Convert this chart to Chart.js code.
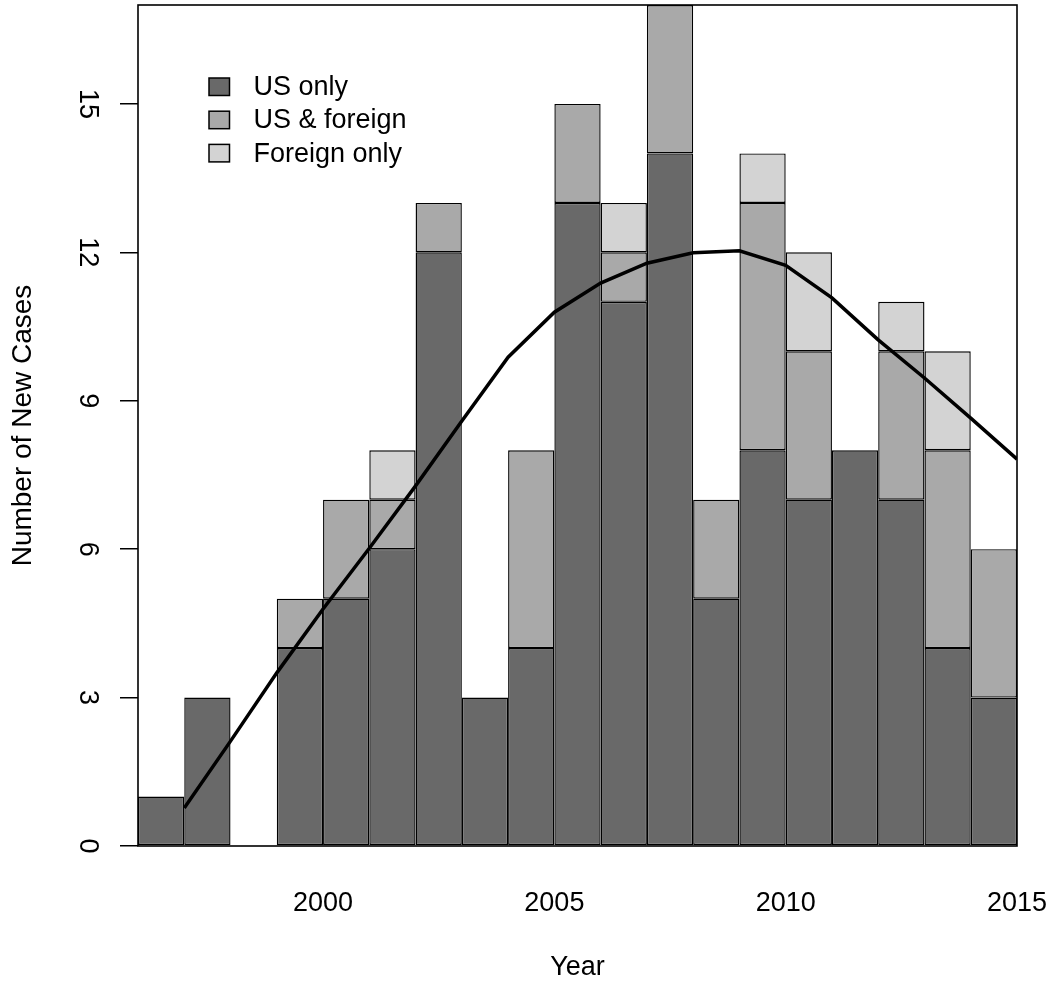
<!DOCTYPE html>
<html>
<head>
<meta charset="utf-8">
<script src="https://cdn.jsdelivr.net/npm/chart.js@4.4.1/dist/chart.umd.min.js"></script>
<style>
  html, body { margin: 0; padding: 0; background: #ffffff; }
  #wrap { width: 1052px; height: 988px; }
</style>
</head>
<body>
<div id="wrap"><canvas id="cases" width="1052" height="988"></canvas></div>
<script>
// Yearly counts of new cases, split by where they occurred
const YEARS        = [1996, 1997, 1998, 1999, 2000, 2001, 2002, 2003, 2004, 2005,
                      2006, 2007, 2008, 2009, 2010, 2011, 2012, 2013, 2014];
const US_ONLY      = [1, 3, 0, 4, 5, 6, 12, 3, 4, 13, 11, 14, 5, 8, 7, 8, 7, 4, 3];
const US_FOREIGN   = [0, 0, 0, 1, 2, 1, 1, 0, 4, 2, 1, 3, 2, 5, 3, 0, 3, 4, 3];
const FOREIGN_ONLY = [0, 0, 0, 0, 0, 1, 0, 0, 0, 0, 1, 0, 0, 1, 2, 0, 1, 2, 0];
// Smoothed trend, evaluated at the end of each year
const TREND        = [0.77, 2.12, 3.50, 4.79, 6.02, 7.28, 8.59, 9.88, 10.79, 11.38,
                      11.78, 11.99, 12.03, 11.74, 11.08, 10.23, 9.46, 8.65, 7.82];
const SERIES_NAMES = ['US only', 'US & foreign', 'Foreign only'];
const X_TICKS = [2000, 2005, 2010, 2015];
const Y_TICKS = [0, 3, 6, 9, 12, 15];
const Y_MAX = 17;

const FONT = 'Liberation Sans, Arial, Helvetica, sans-serif';
const COLORS = ['#696969', '#a9a9a9', '#d3d3d3'];

// each yearly bin spans [year, year + 1]
const toBars = (vals) => vals.map((v, i) => ({ x: YEARS[i] + 0.5, y: v }));
const toTrend = TREND.map((v, i) => ({ x: YEARS[i] + 1, y: v }));

const barStyle = (color) => ({
  type: 'bar',
  backgroundColor: color,
  borderColor: '#000000',
  borderWidth: 1.4,
  borderSkipped: false,
  inflateAmount: 0,
  barPercentage: 1,
  categoryPercentage: 1,
  stack: 'cases',
  order: 1
});

// frame around the plotting region
const frame = {
  id: 'frame',
  afterDatasetsDraw(chart) {
    const a = chart.chartArea, ctx = chart.ctx;
    ctx.save();
    ctx.strokeStyle = '#000000';
    ctx.lineWidth = 1.6;
    ctx.strokeRect(a.left, a.top, a.right - a.left, a.bottom - a.top);
    ctx.restore();
  }
};

// key in the upper-left corner of the plot
const key = {
  id: 'key',
  afterDraw(chart) {
    const a = chart.chartArea, ctx = chart.ctx;
    const bx = a.left + 71, by = a.top + 73, step = 33.2, bw = 20.5, bh = 17.5;
    ctx.save();
    ctx.font = '27px ' + FONT;
    ctx.textBaseline = 'middle';
    ctx.textAlign = 'left';
    chart.data.datasets.forEach((ds, i) => {
      if (ds.type !== 'bar') return;
      const y = by + i * step;
      ctx.fillStyle = ds.backgroundColor;
      ctx.fillRect(bx, y, bw, bh);
      ctx.strokeStyle = '#000000';
      ctx.lineWidth = 1.5;
      ctx.strokeRect(bx, y, bw, bh);
      ctx.fillStyle = '#000000';
      ctx.fillText(ds.label, bx + bw + 24, y + bh / 2 + 1);
    });
    ctx.restore();
  }
};

new Chart(document.getElementById('cases'), {
  data: {
    datasets: [
      Object.assign({ label: SERIES_NAMES[0], data: toBars(US_ONLY) }, barStyle(COLORS[0])),
      Object.assign({ label: SERIES_NAMES[1], data: toBars(US_FOREIGN) }, barStyle(COLORS[1])),
      Object.assign({ label: SERIES_NAMES[2], data: toBars(FOREIGN_ONLY) }, barStyle(COLORS[2])),
      {
        type: 'line',
        label: 'Trend',
        data: toTrend,
        borderColor: '#000000',
        borderWidth: 3.5,
        pointRadius: 0,
        tension: 0,
        fill: false,
        stack: 'trend',
        order: 0
      }
    ]
  },
  options: {
    responsive: false,
    animation: false,
    devicePixelRatio: 1,
    layout: { padding: { top: 5, right: 35, left: 0, bottom: 0 } },
    plugins: { legend: { display: false }, tooltip: { enabled: false } },
    scales: {
      x: {
        type: 'linear',
        stacked: true,
        offset: false,
        bounds: 'ticks',
        min: YEARS[0],
        max: YEARS[YEARS.length - 1] + 1,
        afterBuildTicks(scale) { scale.ticks = X_TICKS.map(v => ({ value: v })); },
        afterFit(scale) {
          scale.height = 142;
          scale.paddingLeft = 0;
          scale.paddingRight = 0;
        },
        grid: { display: false, drawTicks: false, offset: false },
        border: { display: false },
        ticks: {
          autoSkip: false, maxRotation: 0, minRotation: 0, padding: 41,
          color: '#000000', font: { family: FONT, size: 27 },
          callback: (v) => String(v)
        },
        title: {
          display: true, text: 'Year', color: '#000000',
          font: { family: FONT, size: 27 }, padding: { top: 0, bottom: 4 }
        }
      },
      y: {
        type: 'linear',
        stacked: true,
        min: 0,
        max: Y_MAX,
        afterBuildTicks(scale) { scale.ticks = Y_TICKS.map(v => ({ value: v })); },
        afterFit(scale) {
          scale.width = 138;
          scale.paddingTop = 0;
          scale.paddingBottom = 0;
        },
        grid: {
          display: true, drawOnChartArea: false, drawTicks: true,
          tickLength: 18, color: '#000000', lineWidth: 1.5
        },
        border: { display: false },
        ticks: {
          minRotation: -90, maxRotation: -90, crossAlign: 'center', padding: 18,
          color: '#000000', font: { family: FONT, size: 27 },
          callback: (v) => String(v)
        },
        title: {
          display: true, text: 'Number of New Cases', color: '#000000',
          font: { family: FONT, size: 28 }, padding: { top: 6, bottom: 0 }
        }
      }
    }
  },
  plugins: [frame, key]
});
</script>
</body>
</html>
